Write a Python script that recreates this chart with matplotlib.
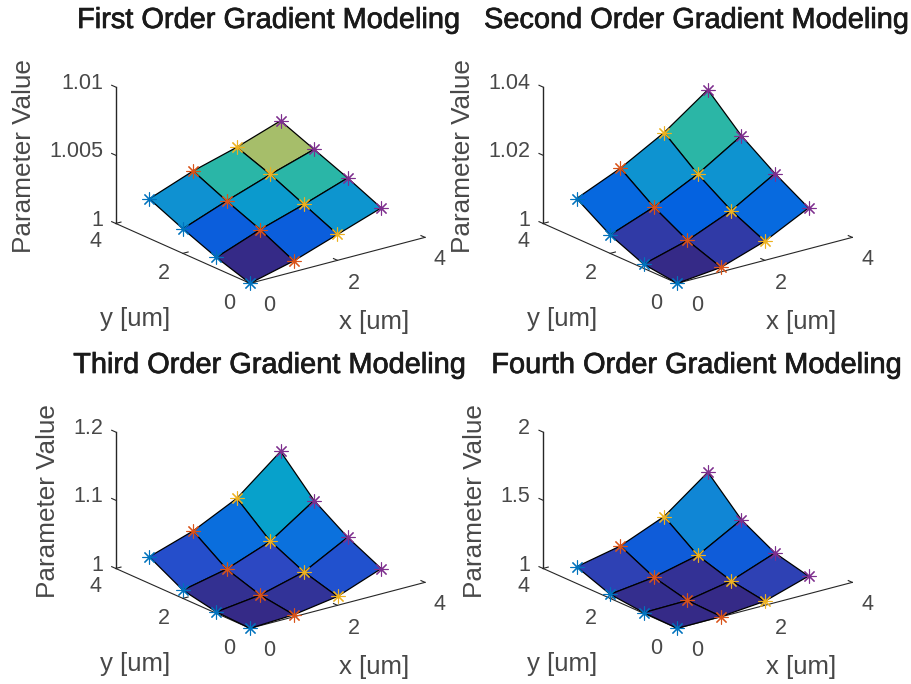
import numpy as np
import matplotlib
matplotlib.use("Agg")
import matplotlib.pyplot as plt
import matplotlib.patheffects as pe
from matplotlib.colors import LinearSegmentedColormap, Normalize
from mpl_toolkits.mplot3d import proj3d

plt.rcParams['font.family'] = ['Liberation Sans', 'DejaVu Sans']

W, H = 911, 684

# grid points [um]
x_grid = [0, 1, 2, 3]
y_grid = [0, 1, 2, 3]

# parameter values, one row per y
z_first = [[1.0000, 1.0008, 1.0019, 1.0030],
           [1.0008, 1.0020, 1.0030, 1.0041],
           [1.0018, 1.0030, 1.0041, 1.0051],
           [1.0029, 1.0041, 1.0050, 1.0061]]
z_second = [[1.0000, 1.0013, 1.0056, 1.0120],
            [1.0012, 1.0048, 1.0102, 1.0177],
            [1.0054, 1.0102, 1.0165, 1.0244],
            [1.0117, 1.0172, 1.0243, 1.0335]]
z_third = [[1.000, 1.003, 1.013, 1.037],
           [1.002, 1.010, 1.027, 1.061],
           [1.012, 1.026, 1.050, 1.093],
           [1.039, 1.060, 1.091, 1.143]]
z_fourth = [[1.000, 1.002, 1.030, 1.130],
            [1.005, 1.010, 1.070, 1.190],
            [1.030, 1.070, 1.146, 1.324],
            [1.122, 1.190, 1.322, 1.563]]

titles = ["First Order Gradient Modeling", "Second Order Gradient Modeling",
          "Third Order Gradient Modeling", "Fourth Order Gradient Modeling"]
z_data = [z_first, z_second, z_third, z_fourth]
z_limits = [(1, 1.01), (1, 1.04), (1, 1.2), (1, 2)]
z_ticks = [[1, 1.005, 1.01], [1, 1.02, 1.04], [1, 1.1, 1.2], [1, 1.5, 2]]
z_ticklabels = [["1", "1.005", "1.01"], ["1", "1.02", "1.04"],
                ["1", "1.1", "1.2"], ["1", "1.5", "2"]]
xy_ticks = [0, 2, 4]

# pixel spots per panel: where x=y=0 sits, label column, title centre
origins = [(250, 283.3), (677.3, 283.3), (250, 628.3), (677.3, 628.3)]
zlabel_x = [24, 463, 48, 475]
title_pos = [(269, 20), (697, 20), (270, 365), (697, 365)]

line_colors = ['#0072BD', '#D95319', '#EDB120', '#7E2F8E']
parula = LinearSegmentedColormap.from_list('parula', [
    (0.2081, 0.1663, 0.5292), (0.1707, 0.2919, 0.7792), (0.0117, 0.3875, 0.8820),
    (0.0629, 0.4737, 0.8554), (0.0641, 0.5570, 0.8240), (0.0231, 0.6418, 0.7913),
    (0.0590, 0.6838, 0.7254), (0.1801, 0.7177, 0.6424), (0.3482, 0.7424, 0.5473),
    (0.5709, 0.7485, 0.4494), (0.7525, 0.7384, 0.3768), (0.9139, 0.7258, 0.3063),
    (0.9955, 0.7861, 0.1967), (0.9626, 0.8705, 0.1309), (0.9763, 0.9831, 0.0538)])

GRAY = '#484848'


def to_px(ax, x, y, z):
    xs, ys, _ = proj3d.proj_transform(x, y, z, ax.get_proj())
    return ax.transData.transform((xs, ys))


def place_axes(ax, ox, oy, zlo):
    # scale and shift the 3d box until x=y=0 lands on the wanted pixel
    side = 400.0
    ax.set_position([0.1, 0.1, side / W, side / H])
    ax.apply_aspect()
    span = to_px(ax, 4, 0, zlo)[0] - to_px(ax, 0, 0, zlo)[0]
    side = side * 175.0 / span
    ax.set_position([0.1, 0.1, side / W, side / H])
    ax.apply_aspect()
    px = to_px(ax, 0, 0, zlo)
    ax.set_position([0.1 + (ox - px[0]) / W, 0.1 + (H - oy - px[1]) / H, side / W, side / H])
    ax.apply_aspect()


def px_text(px, py, s, **kw):
    return plt.figtext(px / W, 1 - py / H, s, **kw)


fig = plt.figure(figsize=(W / 100, H / 100), dpi=100)
X, Y = np.meshgrid(x_grid, y_grid)

for i in range(4):
    Z = np.array(z_data[i])
    zlo, zhi = z_limits[i]
    ox, oy = origins[i]

    ax = fig.add_subplot(2, 2, i + 1, projection='3d', computed_zorder=False)
    ax.set_proj_type('ortho')
    ax.view_init(elev=20, azim=-127.5)
    ax.set_box_aspect((1, 1, 0.658))
    ax.set_xlim(0, 4)
    ax.set_ylim(0, 4)
    ax.set_zlim(zlo, zhi)
    ax.set_axis_off()
    ax.patch.set_alpha(0)

    # axis lines, drawn by hand to get the matlab box-off look
    ax.plot([0, 4], [0, 0], [zlo, zlo], color='#262626', lw=0.8, zorder=1)
    ax.plot([0, 0], [0, 4], [zlo, zlo], color='#262626', lw=0.8, zorder=1)
    ax.plot([0, 0], [4, 4], [zlo, zhi], color='#262626', lw=1.0, zorder=1)
    for t in z_ticks[i]:
        ax.plot([0, 0], [4, 4.12], [t, t], color='#262626', lw=0.8, zorder=1)
    for t in xy_ticks:
        ax.plot([t, t], [0, 0.12], [zlo, zlo], color='#262626', lw=0.8, zorder=1)
        ax.plot([0, 0.12], [t, t], [zlo, zlo], color='#262626', lw=0.8, zorder=1)

    norm = Normalize(Z.min(), Z.max())
    ax.plot_surface(X, Y, Z, rstride=1, cstride=1, facecolors=parula(norm(Z)),
                    shade=False, edgecolor='black', linewidth=0.9, zorder=2)

    # one colour per x column
    for j in range(4):
        ax.plot(X[:, j], Y[:, j], Z[:, j], linestyle='none', marker=(8, 2, 0),
                color=line_colors[j], markersize=10, markeredgewidth=0.8, zorder=3)

    place_axes(ax, ox, oy, zlo)

    # tick labels
    fs = 15.5
    for lab, dx, dy in zip(["0", "2", "4"], [19.5, 103.5, 190], [22.5, 0.5, -24]):
        px_text(ox + dx, oy + dy, lab, fontsize=fs, color=GRAY, ha='center', va='center')
    for lab, dx, dy in zip(["0", "2", "4"], [-21, -86.5, -154], [20.5, -10, -41.5]):
        px_text(ox + dx, oy + dy, lab, fontsize=fs, color=GRAY, ha='center', va='center')
    for t, lab in zip(z_ticks[i], z_ticklabels[i]):
        frac = (t - zlo) / (zhi - zlo)
        px_text(ox - 147, oy - 63 - 137 * frac, lab, fontsize=fs, color=GRAY, ha='right', va='center')

    px_text(ox + 124, oy + 39, "x [um]", fontsize=18.5, color=GRAY, ha='center', va='center')
    px_text(ox - 115, oy + 36, "y [um]", fontsize=18.5, color=GRAY, ha='center', va='center')
    px_text(zlabel_x[i], oy - 127, "Parameter Value", fontsize=18.8, color=GRAY,
            rotation=90, ha='center', va='center')
    tt = px_text(title_pos[i][0], title_pos[i][1], titles[i], fontsize=20.85,
                 color='#1a1a1a', ha='center', va='center')
    # reference title is a bit heavier than regular but lighter than bold
    tt.set_path_effects([pe.withStroke(linewidth=0.5, foreground='#1a1a1a')])

plt.savefig("out.png", dpi=100)
